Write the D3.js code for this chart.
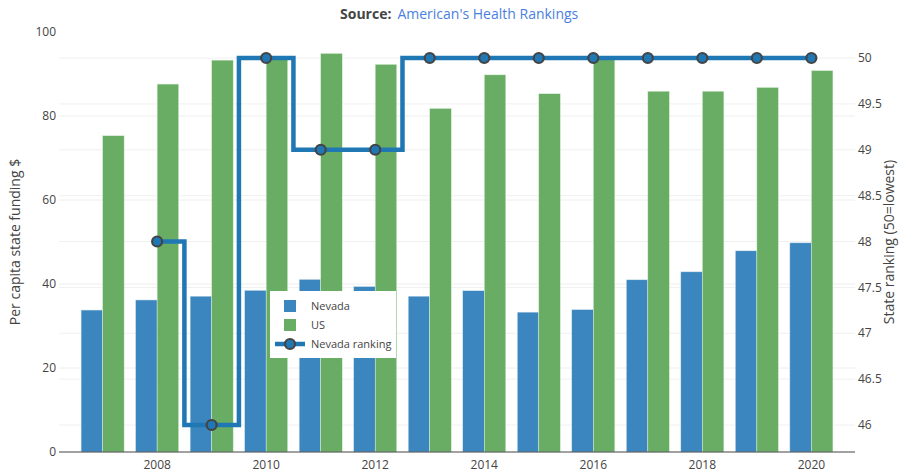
<!DOCTYPE html>
<html>
<head>
<meta charset="utf-8">
<script src="https://cdn.jsdelivr.net/npm/d3@7"></script>
<style>
  body { margin: 0; background: #fff; }
  text { font-family: "Open Sans", sans-serif; }
</style>
</head>
<body>
<div id="chart"></div>
<script>
// data
const years = [2007, 2008, 2009, 2010, 2011, 2012, 2013, 2014, 2015, 2016, 2017, 2018, 2019, 2020];
const nevada = [33.8, 36.2, 37.1, 38.5, 41.1, 39.4, 37.1, 38.4, 33.3, 33.9, 41.0, 42.9, 47.9, 49.8];
const us = [75.3, 87.6, 93.3, 93.4, 94.9, 92.3, 81.8, 89.8, 85.3, 93.6, 85.9, 85.9, 86.8, 90.8];
const rankYears = [2008, 2009, 2010, 2011, 2012, 2013, 2014, 2015, 2016, 2017, 2018, 2019, 2020];
const ranking = [48, 46, 50, 49, 49, 50, 50, 50, 50, 50, 50, 50, 50];
const leftTicks = [0, 20, 40, 60, 80, 100];
const rightTicks = [46, 46.5, 47, 47.5, 48, 48.5, 49, 49.5, 50];
const xTicks = [2008, 2010, 2012, 2014, 2016, 2018, 2020];

const W = 903, H = 472;
const m = {l: 59, r: 48, t: 32, b: 20};
const iw = W - m.l - m.r, ih = H - m.t - m.b;

const svg = d3.select('#chart').append('svg')
    .attr('width', W).attr('height', H);

const x = d3.scaleLinear().domain([years[0] - 0.8, years[years.length - 1] + 0.8]).range([m.l, m.l + iw]);
const y = d3.scaleLinear().domain([0, 100]).range([m.t + ih, m.t]);
// right axis: 50 at y=58, 46 at y=425
const y2 = d3.scaleLinear().domain([46, 50]).range([425, 58]);
const bw = 0.395; // bar width in years

// gridlines
const grid = svg.append('g');
grid.selectAll('.gl').data(leftTicks.filter(d => d > 0 && d < 100)).enter().append('line')
    .attr('x1', m.l).attr('x2', m.l + iw)
    .attr('y1', d => y(d)).attr('y2', d => y(d))
    .attr('stroke', '#eee').attr('stroke-width', 1);
grid.selectAll('.gr').data(rightTicks).enter().append('line')
    .attr('x1', m.l).attr('x2', m.l + iw)
    .attr('y1', d => y2(d)).attr('y2', d => y2(d))
    .attr('stroke', '#f0f0f0').attr('stroke-width', 1);

// bars
svg.append('g').selectAll('rect').data(years).enter().append('rect')
    .attr('x', d => x(d - bw))
    .attr('width', x(bw) - x(0))
    .attr('y', (d, i) => y(nevada[i]))
    .attr('height', (d, i) => y(0) - y(nevada[i]))
    .attr('fill', '#3b86be')
    .attr('stroke', '#d8e6f2').attr('stroke-width', 0.5);
svg.append('g').selectAll('rect').data(years).enter().append('rect')
    .attr('x', d => x(d))
    .attr('width', x(bw) - x(0))
    .attr('y', (d, i) => y(us[i]))
    .attr('height', (d, i) => y(0) - y(us[i]))
    .attr('fill', '#68ad63')
    .attr('stroke', '#dcefdc').attr('stroke-width', 0.5);

// x axis line
svg.append('line')
    .attr('x1', m.l).attr('x2', m.l + iw)
    .attr('y1', y(0)).attr('y2', y(0))
    .attr('stroke', '#444').attr('stroke-width', 1);

// ranking step line
const line = d3.line()
    .x((d, i) => x(rankYears[i]))
    .y(d => y2(d))
    .curve(d3.curveStep);
svg.append('path').datum(ranking)
    .attr('d', line)
    .attr('fill', 'none')
    .attr('stroke', '#1f77b4')
    .attr('stroke-width', 4.5);
svg.append('g').selectAll('circle').data(ranking).enter().append('circle')
    .attr('cx', (d, i) => x(rankYears[i]))
    .attr('cy', d => y2(d))
    .attr('r', 5)
    .attr('fill', '#1f77b4')
    .attr('stroke', '#444')
    .attr('stroke-width', 2.2);

// tick labels
const tl = svg.append('g').attr('font-size', 12).attr('fill', '#444');
tl.selectAll('.lt').data(leftTicks).enter().append('text')
    .attr('x', m.l - 3).attr('y', d => y(d)).attr('dy', '0.35em')
    .attr('text-anchor', 'end').text(d => d);
tl.selectAll('.rt').data(rightTicks).enter().append('text')
    .attr('x', 858).attr('y', d => y2(d)).attr('dy', '0.35em')
    .attr('text-anchor', 'start').text(d => d);
tl.selectAll('.xt').data(xTicks).enter().append('text')
    .attr('x', d => x(d)).attr('y', y(0) + 17)
    .attr('text-anchor', 'middle').text(d => d);

// axis titles
svg.append('text')
    .attr('transform', 'translate(20,' + (m.t + ih / 2) + ') rotate(-90)')
    .attr('text-anchor', 'middle').attr('font-size', 14).attr('fill', '#444')
    .text('Per capita state funding $');
svg.append('text')
    .attr('transform', 'translate(894,' + (m.t + ih / 2) + ') rotate(-90)')
    .attr('text-anchor', 'middle').attr('font-size', 14).attr('fill', '#444')
    .text('State ranking (50=lowest)');

// title
const title = svg.append('text').attr('x', 340).attr('y', 19).attr('font-size', 14);
title.append('tspan').attr('font-weight', 'bold').attr('fill', '#444').text('Source:');
title.append('tspan').attr('fill', '#4a7fe0').attr('dx', 6).text("American's Health Rankings");

// legend
const lg = svg.append('g').attr('transform', 'translate(270,291)');
lg.append('rect').attr('width', 126).attr('height', 67).attr('fill', '#fff');
lg.append('rect').attr('x', 14).attr('y', 9).attr('width', 12).attr('height', 12).attr('fill', '#3b86be');
lg.append('rect').attr('x', 14).attr('y', 28).attr('width', 12).attr('height', 12).attr('fill', '#68ad63');
lg.append('line').attr('x1', 5).attr('x2', 35).attr('y1', 53).attr('y2', 53)
    .attr('stroke', '#1f77b4').attr('stroke-width', 4.5);
lg.append('circle').attr('cx', 20).attr('cy', 53).attr('r', 5)
    .attr('fill', '#1f77b4').attr('stroke', '#444').attr('stroke-width', 2.2);
const lt = lg.append('g').attr('font-size', 11).attr('fill', '#444');
lt.append('text').attr('x', 41).attr('y', 15).attr('dy', '0.35em').text('Nevada');
lt.append('text').attr('x', 41).attr('y', 34).attr('dy', '0.35em').text('US');
lt.append('text').attr('x', 41).attr('y', 53).attr('dy', '0.35em').text('Nevada ranking');
</script>
</body>
</html>
